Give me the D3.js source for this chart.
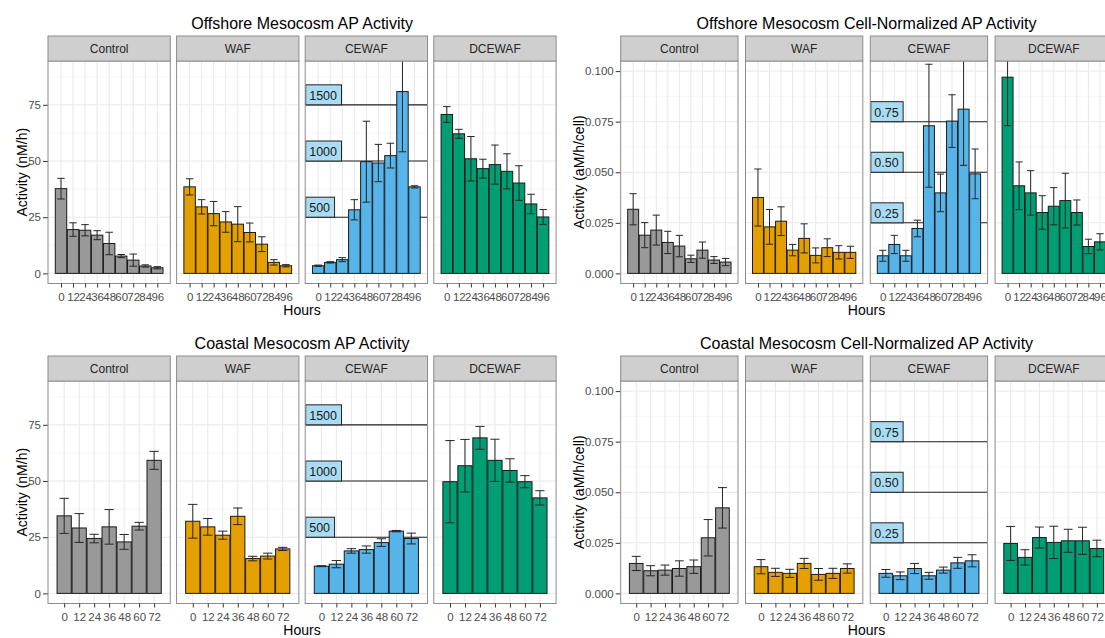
<!DOCTYPE html>
<html>
<head>
<meta charset="utf-8">
<script src="https://cdn.jsdelivr.net/npm/d3@7"></script>
<style>
  body { margin: 0; background: #fff; }
  text { font-family: "Liberation Sans", Arial, sans-serif; }
</style>
</head>
<body>
<div id="chart"></div>
<script>
var treatments = ['Control', 'WAF', 'CEWAF', 'DCEWAF'];
var fills = ['#999999', '#E69F00', '#56B4E9', '#009E73'];

var offshoreHours = [0, 12, 24, 36, 48, 60, 72, 84, 96];
var coastalHours = [0, 12, 24, 36, 48, 60, 72];

// CEWAF panels are drawn on a shrunk scale, labelled by the boxes
var apRefValues = [25, 50, 75], apRefLabels = ['500', '1000', '1500'];
var cellRefValues = [0.025, 0.05, 0.075], cellRefLabels = ['0.25', '0.50', '0.75'];

var apTicks = [0, 25, 50, 75];
var cellTicks = [0, 0.025, 0.05, 0.075, 0.1];

// one row per treatment
var offshoreApMean = [
  [37.7, 19.5, 19.2, 17.0, 13.3, 7.7, 5.9, 3.3, 2.5],
  [38.5, 29.6, 26.6, 22.9, 21.9, 18.2, 13.0, 4.9, 3.4],
  [3.4, 4.9, 6.1, 28.3, 49.7, 49.1, 52.4, 80.9, 38.5],
  [70.7, 62.1, 51.0, 46.6, 48.4, 45.4, 40.2, 30.9, 25.1]
];
var offshoreApErr = [
  [4.6, 3.0, 2.5, 2.0, 5.0, 0.7, 2.7, 0.5, 0.5],
  [3.6, 3.2, 5.4, 4.6, 7.8, 4.2, 3.3, 1.2, 0.5],
  [0.3, 0.3, 0.9, 4.5, 18.0, 8.3, 5.5, 26.8, 0.5],
  [3.5, 2.0, 9.9, 4.2, 8.7, 7.8, 7.7, 4.3, 3.3]
];

var offshoreCellMean = [
  [0.0317, 0.0189, 0.0214, 0.0153, 0.0135, 0.0072, 0.0115, 0.0066, 0.0056],
  [0.0375, 0.0230, 0.0258, 0.0115, 0.0173, 0.0089, 0.0127, 0.0104, 0.0104],
  [0.0087, 0.0143, 0.0087, 0.0222, 0.0730, 0.0398, 0.0753, 0.0812, 0.0492],
  [0.0970, 0.0433, 0.0398, 0.0301, 0.0332, 0.0360, 0.0301, 0.0133, 0.0156]
];
var offshoreCellErr = [
  [0.0077, 0.0062, 0.0074, 0.0055, 0.0053, 0.0018, 0.0040, 0.0017, 0.0018],
  [0.0141, 0.0086, 0.0071, 0.0028, 0.0072, 0.0037, 0.0044, 0.0033, 0.0030],
  [0.0027, 0.0045, 0.0027, 0.0041, 0.0304, 0.0093, 0.0130, 0.0278, 0.0123],
  [0.0240, 0.0118, 0.0110, 0.0083, 0.0092, 0.0135, 0.0062, 0.0036, 0.0040]
];

var coastalApMean = [
  [34.5, 29.1, 24.4, 29.6, 22.9, 29.9, 59.2],
  [32.1, 29.6, 25.9, 34.3, 15.5, 16.6, 19.8],
  [12.1, 13.0, 18.9, 19.5, 22.6, 27.7, 24.4],
  [49.7, 56.8, 69.2, 59.2, 54.7, 49.7, 42.5]
];
var coastalApErr = [
  [7.8, 6.4, 1.9, 7.7, 3.3, 1.7, 4.0],
  [7.5, 3.7, 1.8, 3.7, 1.0, 1.3, 0.7],
  [0.2, 1.6, 1.0, 1.6, 1.7, 0.3, 2.4],
  [18.3, 11.7, 5.1, 9.4, 5.2, 2.7, 3.2]
];

var coastalCellMean = [
  [0.0148, 0.0112, 0.0115, 0.0123, 0.0132, 0.0275, 0.0423],
  [0.0132, 0.0104, 0.0099, 0.0148, 0.0094, 0.0099, 0.0123],
  [0.0099, 0.0087, 0.0123, 0.0087, 0.0115, 0.0151, 0.0161],
  [0.0247, 0.0178, 0.0276, 0.0252, 0.0260, 0.0260, 0.0222]
];
var coastalCellErr = [
  [0.0035, 0.0025, 0.0025, 0.0038, 0.0033, 0.0090, 0.0100],
  [0.0035, 0.0020, 0.0020, 0.0025, 0.0029, 0.0025, 0.0023],
  [0.0019, 0.0019, 0.0025, 0.0017, 0.0015, 0.0027, 0.0030],
  [0.0084, 0.0038, 0.0052, 0.0080, 0.0057, 0.0067, 0.0041]
];

var svg = d3.select('#chart').append('svg')
  .attr('width', 1105)
  .attr('height', 638);

var charts = [
  { title: 'Offshore Mesocosm AP Activity', ylab: 'Activity (nM/h)', left: 48, top: 36, ylabX: 27,
    pw: 122.3, gap: 6.3, hours: offshoreHours, mean: offshoreApMean, err: offshoreApErr,
    ymax: 90, ticks: apTicks, fmt: d3.format('d'), refs: apRefValues, refLabels: apRefLabels },
  { title: 'Offshore Mesocosm Cell-Normalized AP Activity', ylab: 'Activity (aM/h/cell)', left: 620.7, top: 36, ylabX: 584,
    pw: 117.3, gap: 7.5, hours: offshoreHours, mean: offshoreCellMean, err: offshoreCellErr,
    ymax: 0.1, ticks: cellTicks, fmt: d3.format('.3f'), refs: cellRefValues, refLabels: cellRefLabels },
  { title: 'Coastal Mesocosm AP Activity', ylab: 'Activity (nM/h)', left: 48, top: 356, ylabX: 27,
    pw: 122.3, gap: 6.3, hours: coastalHours, mean: coastalApMean, err: coastalApErr,
    ymax: 90, ticks: apTicks, fmt: d3.format('d'), refs: apRefValues, refLabels: apRefLabels },
  { title: 'Coastal Mesocosm Cell-Normalized AP Activity', ylab: 'Activity (aM/h/cell)', left: 620.7, top: 356, ylabX: 584,
    pw: 117.3, gap: 7.5, hours: coastalHours, mean: coastalCellMean, err: coastalCellErr,
    ymax: 0.1, ticks: cellTicks, fmt: d3.format('.3f'), refs: cellRefValues, refLabels: cellRefLabels }
];

var stripH = 25, panelH = 222.5;

charts.forEach(function(c, ci) {
  var g = svg.append('g');
  var pTop = c.top + stripH, pBot = pTop + panelH;
  var y = d3.scaleLinear().domain([-0.05 * c.ymax, 1.05 * c.ymax]).range([pBot, pTop]);
  var minor = d3.range(0, c.ticks.length - 1).map(function(i) { return (c.ticks[i] + c.ticks[i + 1]) / 2; });
  if (c.ticks[c.ticks.length - 1] + (c.ticks[1] - c.ticks[0]) / 2 < 1.05 * c.ymax)
    minor.push(c.ticks[c.ticks.length - 1] + (c.ticks[1] - c.ticks[0]) / 2);
  var fullW = 4 * c.pw + 3 * c.gap;

  // title
  g.append('text')
    .attr('x', c.left + fullW / 2).attr('y', c.top - 7.5)
    .attr('text-anchor', 'middle').style('font-size', '16px').attr('fill', '#000')
    .text(c.title);

  // y axis title
  g.append('text')
    .attr('transform', 'translate(' + c.ylabX + ',' + ((pTop + pBot) / 2) + ') rotate(-90)')
    .attr('text-anchor', 'middle').style('font-size', '14px').attr('fill', '#000')
    .text(c.ylab);

  // y ticks
  var yAxis = g.append('g').attr('transform', 'translate(' + c.left + ',0)')
    .call(d3.axisLeft(y).tickValues(c.ticks).tickFormat(c.fmt).tickSize(5).tickPadding(2));
  yAxis.select('.domain').remove();
  yAxis.selectAll('line').attr('stroke', '#333');
  yAxis.selectAll('text').style('font-size', '11.5px').attr('fill', '#4d4d4d').style('font-family', '"Liberation Sans", Arial, sans-serif');

  // x title
  g.append('text')
    .attr('x', c.left + fullW / 2).attr('y', pBot + 31)
    .attr('text-anchor', 'middle').style('font-size', '14px').attr('fill', '#000')
    .text('Hours');

  treatments.forEach(function(t, ti) {
    var x0 = c.left + ti * (c.pw + c.gap);
    var x = d3.scalePoint().domain(c.hours).range([x0, x0 + c.pw]).padding(1.08);
    var bw = x.step() * 0.95, cap = x.step() * 0.62;
    var clipId = 'clip' + ci + '_' + ti;
    g.append('clipPath').attr('id', clipId).append('rect')
      .attr('x', x0).attr('y', pTop).attr('width', c.pw).attr('height', panelH);

    var p = g.append('g');
    p.append('rect').attr('x', x0).attr('y', pTop).attr('width', c.pw).attr('height', panelH).attr('fill', '#fff');

    var inner = p.append('g').attr('clip-path', 'url(#' + clipId + ')');

    // grid
    inner.selectAll('.hmin').data(minor).enter().append('line')
      .attr('x1', x0).attr('x2', x0 + c.pw)
      .attr('y1', function(d) { return y(d); }).attr('y2', function(d) { return y(d); })
      .attr('stroke', '#f3f3f3').attr('stroke-width', 0.6);
    inner.selectAll('.hmaj').data(c.ticks).enter().append('line')
      .attr('x1', x0).attr('x2', x0 + c.pw)
      .attr('y1', function(d) { return y(d); }).attr('y2', function(d) { return y(d); })
      .attr('stroke', '#e8e8e8').attr('stroke-width', 1);
    var vx = c.hours.map(function(h) { return x(h); });
    vx.push(x(c.hours[0]) - x.step(), x(c.hours[c.hours.length - 1]) + x.step());
    inner.selectAll('.vmaj').data(vx.filter(function(v) { return v > x0 + 3 && v < x0 + c.pw - 3; }))
      .enter().append('line')
      .attr('x1', function(d) { return d; }).attr('x2', function(d) { return d; })
      .attr('y1', pTop).attr('y2', pBot)
      .attr('stroke', '#e8e8e8').attr('stroke-width', 1);

    // reference lines for the CEWAF panel
    if (t === 'CEWAF') {
      inner.selectAll('.ref').data(c.refs).enter().append('line')
        .attr('x1', x0).attr('x2', x0 + c.pw)
        .attr('y1', function(d) { return y(d); }).attr('y2', function(d) { return y(d); })
        .attr('stroke', '#222').attr('stroke-width', 1.1);
    }

    // bars
    var idx = d3.range(c.hours.length);
    inner.selectAll('.bar').data(idx).enter().append('rect')
      .attr('x', function(i) { return x(c.hours[i]) - bw / 2; })
      .attr('width', bw)
      .attr('y', function(i) { return y(c.mean[ti][i]); })
      .attr('height', function(i) { return y(0) - y(c.mean[ti][i]); })
      .attr('fill', fills[ti]).attr('stroke', '#1a1a1a').attr('stroke-width', 1);

    // error bars
    var eb = inner.selectAll('.eb').data(idx).enter().append('g').attr('stroke', '#262626').attr('stroke-width', 1);
    eb.append('line')
      .attr('x1', function(i) { return x(c.hours[i]); }).attr('x2', function(i) { return x(c.hours[i]); })
      .attr('y1', function(i) { return y(c.mean[ti][i] + c.err[ti][i]); })
      .attr('y2', function(i) { return y(c.mean[ti][i] - c.err[ti][i]); });
    eb.append('line')
      .attr('x1', function(i) { return x(c.hours[i]) - cap / 2; }).attr('x2', function(i) { return x(c.hours[i]) + cap / 2; })
      .attr('y1', function(i) { return y(c.mean[ti][i] + c.err[ti][i]); })
      .attr('y2', function(i) { return y(c.mean[ti][i] + c.err[ti][i]); });
    eb.append('line')
      .attr('x1', function(i) { return x(c.hours[i]) - cap / 2; }).attr('x2', function(i) { return x(c.hours[i]) + cap / 2; })
      .attr('y1', function(i) { return y(c.mean[ti][i] - c.err[ti][i]); })
      .attr('y2', function(i) { return y(c.mean[ti][i] - c.err[ti][i]); });

    // label boxes
    if (t === 'CEWAF') {
      c.refs.forEach(function(r, ri) {
        var lg = inner.append('g');
        var txt = lg.append('text')
          .attr('x', x0 + 4).attr('y', y(r) - 5)
          .style('font-size', '12.5px').attr('fill', '#1a1a1a')
          .text(c.refLabels[ri]);
        var tw = txt.node().getComputedTextLength();
        lg.insert('rect', 'text')
          .attr('x', x0 + 0.5).attr('y', y(r) - 20)
          .attr('width', tw + 8).attr('height', 20)
          .attr('fill', '#a9dcf3').attr('stroke', '#222').attr('stroke-width', 1);
      });
    }

    // panel border
    p.append('rect').attr('x', x0).attr('y', pTop).attr('width', c.pw).attr('height', panelH)
      .attr('fill', 'none').attr('stroke', '#8c8c8c').attr('stroke-width', 1);

    // strip
    p.append('rect').attr('x', x0).attr('y', c.top).attr('width', c.pw).attr('height', stripH)
      .attr('fill', '#cfcfcf').attr('stroke', '#8c8c8c').attr('stroke-width', 1);
    p.append('text')
      .attr('x', x0 + c.pw / 2).attr('y', c.top + stripH / 2 + 4.5)
      .attr('text-anchor', 'middle').style('font-size', '12px').attr('fill', '#262626')
      .text(t);

    // x axis
    var xAxis = p.append('g').attr('transform', 'translate(0,' + pBot + ')')
      .call(d3.axisBottom(x).tickSize(4).tickPadding(5));
    xAxis.select('.domain').remove();
    xAxis.selectAll('line').attr('stroke', '#333');
    xAxis.selectAll('text').style('font-size', '11.5px').attr('fill', '#4d4d4d')
      .style('font-family', '"Liberation Sans", Arial, sans-serif');
  });
});
</script>
</body>
</html>
